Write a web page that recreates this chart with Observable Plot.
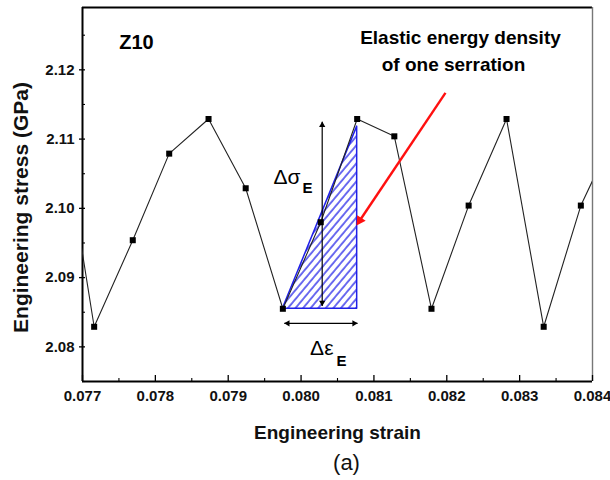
<!DOCTYPE html>
<html>
<head>
<meta charset="utf-8">
<script src="https://cdn.jsdelivr.net/npm/d3@7"></script>
<script src="https://cdn.jsdelivr.net/npm/@observablehq/plot@0.6"></script>
<style>
  html, body { margin: 0; padding: 0; background: #fff; }
</style>
</head>
<body>
<div id="chart"></div>
<script>
// ---- data ----
const strain = [0.07686, 0.07716, 0.07769, 0.07819, 0.07873, 0.07924, 0.07975, 0.08027,
                0.08077, 0.08128, 0.08179, 0.08230, 0.08282, 0.08333, 0.08384, 0.08430];
const stress = [2.1027, 2.0829, 2.0954, 2.1079, 2.1129, 2.1029, 2.0855, 2.0980,
                2.1129, 2.1104, 2.0855, 2.1004, 2.1129, 2.0829, 2.1004, 2.1107];

const xTicks = [0.077, 0.078, 0.079, 0.080, 0.081, 0.082, 0.083, 0.084];
const xMinor = [0.0775, 0.0785, 0.0795, 0.0805, 0.0815, 0.0825, 0.0835];
const yTicks = [2.08, 2.09, 2.10, 2.11, 2.12];
const yMinor = [2.075, 2.085, 2.095, 2.105, 2.115, 2.125];
const xDomain = [0.077, 0.084];
const yDomain = [2.075, 2.129];

// hatched triangle (elastic energy of one serration)
const triStrain = [0.07975, 0.08077];
const triLow = [2.0855, 2.0855];
const triHigh = [2.0855, 2.1118];

// delta-sigma (vertical) and delta-epsilon (horizontal) double arrows
const sigArrowX = 0.08029;
const sigArrowY = [2.0859, 2.1125];
const epsArrowY = 2.0834;
const epsArrowX = [0.07977, 0.080775];

// red pointer arrow
const redStart = [0.081982, 2.11667];
const redHead = [0.080806, 2.09825];

// text labels
const labels = [
  {x: 0.077741, y: 2.1239, text: "Z10", size: 20, weight: "bold", anchor: "middle"},
  {x: 0.082188, y: 2.12464, text: "Elastic energy density", size: 19, weight: "bold", anchor: "middle"},
  {x: 0.082092, y: 2.12072, text: "of one serration", size: 19, weight: "bold", anchor: "middle"},
  {x: 0.079992, y: 2.10449, text: "Δσ", size: 21, weight: "normal", anchor: "end"},
  {x: 0.080020, y: 2.1029, text: "E", size: 15, weight: "bold", anchor: "start"},
  {x: 0.080445, y: 2.07986, text: "Δε", size: 21, weight: "normal", anchor: "end"},
  {x: 0.080486, y: 2.07797, text: "E", size: 15, weight: "bold", anchor: "start"}
];

const points = strain.map((x, i) => ({x, y: stress[i]}));
const inside = points.filter(d => d.x >= xDomain[0] && d.x <= xDomain[1]);
const tri = triStrain.map((x, i) => ({x, y1: triLow[i], y2: triHigh[i]}));
const FONT = "'Liberation Sans', Arial, Helvetica, sans-serif";

function build(redRotate) {
  const marks = [
    Plot.areaY(tri, {x: "x", y1: "y1", y2: "y2", fill: "url(#hatch)", stroke: "#1f1fe8", strokeWidth: 1.5}),
    // frame
    Plot.ruleX([xDomain[0]], {stroke: "#000", strokeWidth: 2}),
    Plot.ruleY([yDomain[0]], {stroke: "#000", strokeWidth: 2}),
    Plot.ruleY([yDomain[1]], {stroke: "#000", strokeWidth: 2}),
    Plot.ruleX([xDomain[1]], {stroke: "#777", strokeWidth: 1.4}),
    // axes
    Plot.axisY(yTicks, {tickSize: 0, tickPadding: 8, tickFormat: d3.format(".2f"), fontSize: 15, fontWeight: "bold", fill: "#111", label: null}),
    Plot.axisY(yTicks, {tickSize: 6, dx: 3, tickFormat: () => "", strokeWidth: 1.3, label: null}),
    Plot.axisY(yMinor, {tickSize: 3, dx: 3, tickFormat: () => "", strokeWidth: 1.1, label: null}),
    Plot.axisX(xTicks, {tickSize: 0, tickPadding: 9, tickFormat: d3.format(".3f"), fontSize: 15, fontWeight: "bold", fill: "#111", label: null}),
    Plot.axisX(xTicks, {tickSize: 6, dy: -6, tickFormat: () => "", strokeWidth: 1.3, label: null}),
    Plot.axisX(xMinor, {tickSize: 3, dy: -3, tickFormat: () => "", strokeWidth: 1.1, label: null}),
    // data
    Plot.line(points, {x: "x", y: "y", clip: true, stroke: "#222", strokeWidth: 1.1}),
    Plot.dot(inside, {x: "x", y: "y", symbol: "square", r: 3.4, fill: "#000", stroke: "none"}),
    // delta sigma arrow
    Plot.link([0], {x1: () => sigArrowX, x2: () => sigArrowX, y1: () => sigArrowY[0], y2: () => sigArrowY[1], stroke: "#000", strokeWidth: 1.2}),
    Plot.dot([0], {x: () => sigArrowX, y: () => sigArrowY[1], symbol: "triangle", r: 2.3, fill: "#000", rotate: 0, dy: 3.4}),
    Plot.dot([0], {x: () => sigArrowX, y: () => sigArrowY[0], symbol: "triangle", r: 2.3, fill: "#000", rotate: 180, dy: -3.4}),
    // delta epsilon arrow
    Plot.link([0], {x1: () => epsArrowX[0], x2: () => epsArrowX[1], y1: () => epsArrowY, y2: () => epsArrowY, stroke: "#000", strokeWidth: 1.2}),
    Plot.dot([0], {x: () => epsArrowX[0], y: () => epsArrowY, symbol: "triangle", r: 2.3, fill: "#000", rotate: -90, dx: 3.4}),
    Plot.dot([0], {x: () => epsArrowX[1], y: () => epsArrowY, symbol: "triangle", r: 2.3, fill: "#000", rotate: 90, dx: -3.4}),
    // red arrow
    Plot.link([0], {x1: () => redStart[0], y1: () => redStart[1], x2: () => redHead[0], y2: () => redHead[1], stroke: "#ff1010", strokeWidth: 2.4}),
    Plot.dot([0], {x: () => redHead[0], y: () => redHead[1], symbol: "triangle", r: 3.8, fill: "#ff1010", rotate: redRotate}),
    // annotations
    ...labels.map(l => Plot.text([l], {x: "x", y: "y", text: "text", fontSize: l.size, fontWeight: l.weight, textAnchor: l.anchor, fill: "#000"})),
    // axis titles
    Plot.text(["Engineering strain"], {frameAnchor: "bottom", textAnchor: "middle", lineAnchor: "middle", dy: 51, fontSize: 19, fontWeight: "bold", fill: "#111"}),
    Plot.text(["(a)"], {frameAnchor: "bottom", textAnchor: "middle", lineAnchor: "middle", dx: 9, dy: 81, fontSize: 22, fontWeight: "normal", fill: "#111"}),
    Plot.text(["Engineering stress (GPa)"], {frameAnchor: "left", textAnchor: "middle", lineAnchor: "middle", dx: -61, dy: 13, rotate: -90, fontSize: 21, fontWeight: "bold", fill: "#111"})
  ];
  return Plot.plot({
    width: 610,
    height: 480,
    marginTop: 7,
    marginBottom: 99,
    marginLeft: 82,
    marginRight: 18,
    x: {domain: xDomain},
    y: {domain: yDomain},
    style: {fontFamily: FONT, background: "#fff", color: "#000"},
    marks
  });
}

// first pass to get scales for the red arrowhead orientation
const probe = build(0);
const sx = probe.scale("x"), sy = probe.scale("y");
const vx = sx.apply(redHead[0]) - sx.apply(redStart[0]);
const vy = sy.apply(redHead[1]) - sy.apply(redStart[1]);
const redRotate = Math.atan2(vx, -vy) * 180 / Math.PI;

const svg = build(redRotate);
const ns = "http://www.w3.org/2000/svg";
const defs = document.createElementNS(ns, "defs");
defs.innerHTML = `<pattern id="hatch" patternUnits="userSpaceOnUse" width="5.8" height="5.8" patternTransform="rotate(40)">
  <rect width="5.8" height="5.8" fill="#fff"/>
  <line x1="1" y1="-1" x2="1" y2="7" stroke="#1f1fe8" stroke-width="1.3"/>
</pattern>`;
svg.insertBefore(defs, svg.firstChild);
document.getElementById("chart").appendChild(svg);
</script>
</body>
</html>
